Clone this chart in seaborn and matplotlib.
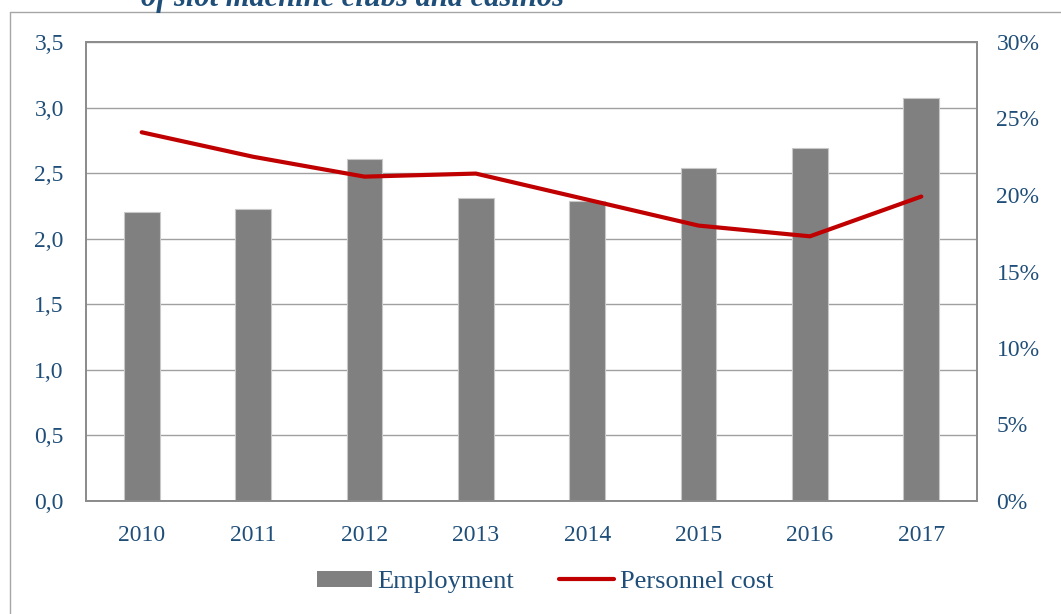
import matplotlib
matplotlib.use("Agg")
import matplotlib.pyplot as plt
import matplotlib.patches as mpatches
from matplotlib.lines import Line2D
from matplotlib.ticker import FuncFormatter, MultipleLocator
import seaborn as sns
import numpy as np

years = ["2010", "2011", "2012", "2013", "2014", "2015", "2016", "2017"]
employment = [2.20, 2.23, 2.61, 2.31, 2.29, 2.54, 2.69, 3.07]
personnel_cost = [24.1, 22.5, 21.2, 21.4, 19.7, 18.0, 17.3, 19.9]

txt_color = "#1F4E79"
bar_color = "#808080"
line_color = "#C00000"
grid_color = "#A0A0A0"

sns.set_style("white")
plt.rcParams["font.family"] = ["Liberation Serif", "DejaVu Serif"]

fig = plt.figure(figsize=(10.61, 6.14), dpi=100)
ax = fig.add_axes([86 / 1061, 1 - 501 / 614, 891 / 1061, 459 / 614])

# bars (left axis)
sns.barplot(x=years, y=employment, ax=ax, color=bar_color, width=0.32,
            edgecolor="#C8C8C8", linewidth=0.8, saturation=1)
ax.set_ylim(0, 3.5)
ax.yaxis.set_major_locator(MultipleLocator(0.5))
ax.yaxis.set_major_formatter(FuncFormatter(lambda v, p: f"{v:.1f}".replace(".", ",")))
ax.set_xlim(-0.5, len(years) - 0.5)
ax.grid(axis="y", color=grid_color, linewidth=1)
ax.set_axisbelow(True)
ax.tick_params(axis="both", length=0, labelsize=17, labelcolor=txt_color)
ax.tick_params(axis="y", pad=16)
ax.tick_params(axis="x", pad=17)
ax.set_xlabel("")
ax.set_ylabel("")

# line (right axis)
ax2 = ax.twinx()
sns.lineplot(x=np.arange(len(years)), y=personnel_cost, ax=ax2,
             color=line_color, linewidth=3)
ax2.set_ylim(0, 30)
ax2.yaxis.set_major_locator(MultipleLocator(5))
ax2.yaxis.set_major_formatter(FuncFormatter(lambda v, p: f"{v:.0f}%"))
ax2.tick_params(axis="y", length=0, labelsize=17, labelcolor=txt_color, pad=14)
ax2.set_ylabel("")
ax2.grid(False)

for a in (ax, ax2):
    for s in a.spines.values():
        s.set_visible(True)
        s.set_color("#8C8C8C")
        s.set_linewidth(1.3)

# outer frame of the chart box
fig.add_artist(Line2D([10 / 1061, 10 / 1061], [0, 1 - 12 / 614],
                      transform=fig.transFigure, color="#A6A6A6", linewidth=1))
fig.add_artist(Line2D([10 / 1061, 1], [1 - 12 / 614, 1 - 12 / 614],
                      transform=fig.transFigure, color="#A6A6A6", linewidth=1))

# title (cut off at the top in the source)
fig.text(141 / 1061, 1 - 6 / 614, "of slot machine clubs and casinos",
         fontsize=22, fontweight="bold", fontstyle="italic", color=txt_color,
         ha="left", va="baseline")

handles = [mpatches.Patch(facecolor=bar_color, edgecolor="none", label="Employment"),
           Line2D([0], [0], color=line_color, linewidth=3, label="Personnel cost")]
fig.legend(handles=handles, loc="center", bbox_to_anchor=(545 / 1061, 1 - 582 / 614),
           ncol=2, frameon=False, fontsize=19, labelcolor=txt_color,
           handlelength=2.1, handleheight=0.6, handletextpad=0.2, columnspacing=1.7)

fig.savefig("out.png", dpi=100)
